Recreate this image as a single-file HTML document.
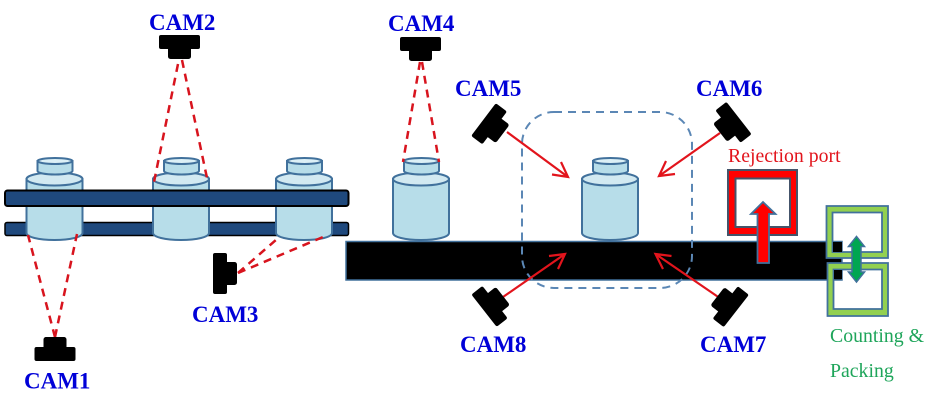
<!DOCTYPE html>
<html>
<head>
<meta charset="utf-8">
<style>
html,body{margin:0;padding:0;background:#fff}
svg{display:block}
.c{font:bold 23px "Liberation Serif",serif;fill:#0000d8}
</style>
</head>
<body>
<svg width="930" height="402" viewBox="0 0 930 402" xmlns="http://www.w3.org/2000/svg">
<defs>
<g id="bottle" stroke="#41719c" stroke-width="2">
<path d="M0 179V233C0 237 12 240 28 240S56 237 56 233V179Z" fill="#b7dde9"/>
<ellipse cx="28" cy="179" rx="28" ry="6.5" fill="#d2e9f1"/>
<path d="M11 161V171C11 173 19 174.500 28.500 174.500S46 173 46 171V161Z" fill="#b7dde9"/>
<ellipse cx="28.500" cy="161" rx="17.500" ry="3" fill="#dcf0f6"/>
</g>
<g id="cam" fill="#000">
<rect x="-20.500" y="0" width="41" height="14" rx="2"/>
<rect x="-11.500" y="10" width="23" height="14" rx="2.500"/>
</g>
</defs>

<rect x="5" y="222.500" width="343.500" height="13" rx="2" fill="#1f497d" stroke="#000" stroke-width="1.500"/>
<use href="#bottle" x="26.500"/>
<use href="#bottle" x="153"/>
<use href="#bottle" x="276"/>
<rect x="5" y="190.500" width="343.500" height="15.500" rx="2.500" fill="#1f497d" stroke="#000" stroke-width="2"/>

<rect x="346" y="241.500" width="496" height="38.500" fill="#000" stroke="#41719c" stroke-width="1.500"/>

<use href="#bottle" x="393"/>
<use href="#bottle" x="582"/>

<path fill="#ff0000" fill-rule="evenodd" stroke="#44546a" stroke-width="2" d="M728 170H797V235H728ZM735.500 178.500V227H790V178.500Z"/>
<path fill="#ff0000" stroke="#41719c" stroke-width="1.800" d="M763 202L775.500 214H769V263H757.500V214H751Z"/>

<path fill="#92d050" fill-rule="evenodd" stroke="#41719c" stroke-width="1.800" d="M826.500 206H888V258H826.500ZM832.500 212.500V252H882V212.500Z"/>
<path fill="#92d050" fill-rule="evenodd" stroke="#41719c" stroke-width="1.800" d="M827.500 263H888V316H827.500ZM833.500 269.500V309H882V269.500Z"/>
<rect x="833" y="242" width="9" height="10" fill="#000"/>
<rect x="834" y="270" width="8" height="9" fill="#000"/>
<path fill="#00a651" stroke="#41719c" stroke-width="1.500" d="M856.500 236.500L864.500 246.500H861V272H864.500L856.500 282L848.500 272H852V246.500H848.500Z"/>

<rect x="522" y="112" width="170" height="176" rx="32" fill="none" stroke="#5b87b5" stroke-width="2" stroke-dasharray="8 6"/>

<g fill="none" stroke="#d8141e" stroke-width="2.500" stroke-dasharray="8 6">
<path d="M55 337L28 235"/><path d="M55 337L77 234"/>
<path d="M178 64L154 182"/><path d="M182 60L207 178"/>
<path d="M238 273L277 239"/><path d="M238 273L323 237"/>
<path d="M420 62L403 162"/><path d="M422 62L439 162"/>
</g>

<g fill="none" stroke="#e2141c" stroke-width="2.200">
<path d="M507 132L568 177M552 174.500L568 177L561 162"/>
<path d="M720 133L659 176M675 174L659 176L666 161"/>
<path d="M503 297L565 254M549 256L565 254L558 269"/>
<path d="M717.500 296.500L655.500 254M671.500 256L655.500 254L663 269"/>
</g>

<use href="#cam" transform="translate(55 361) rotate(180)"/>
<use href="#cam" transform="translate(179.500 35)"/>
<use href="#cam" transform="translate(420.500 37)"/>
<use href="#cam" transform="translate(213 273.500) rotate(-90)"/>
<use href="#cam" transform="translate(483.500 119.500) rotate(-53)"/>
<use href="#cam" transform="translate(739 118) rotate(52)"/>
<use href="#cam" transform="translate(484 310.700) rotate(-128)"/>
<use href="#cam" transform="translate(736.300 311) rotate(128)"/>

<text class="c" x="24" y="388.500">CAM1</text>
<text class="c" x="149" y="30">CAM2</text>
<text class="c" x="192" y="322">CAM3</text>
<text class="c" x="388" y="31">CAM4</text>
<text class="c" x="455" y="96">CAM5</text>
<text class="c" x="696" y="96">CAM6</text>
<text class="c" x="700" y="352">CAM7</text>
<text class="c" x="460" y="352">CAM8</text>

<text x="728" y="162" font-family="'Liberation Serif',serif" font-size="19.800" fill="#e2141c">Rejection port</text>
<text x="830" y="342" font-family="'Liberation Serif',serif" font-size="19.800" fill="#1ea55a">Counting &amp;</text>
<text x="830" y="377" font-family="'Liberation Serif',serif" font-size="19.800" fill="#1ea55a">Packing</text>
</svg>
</body>
</html>
